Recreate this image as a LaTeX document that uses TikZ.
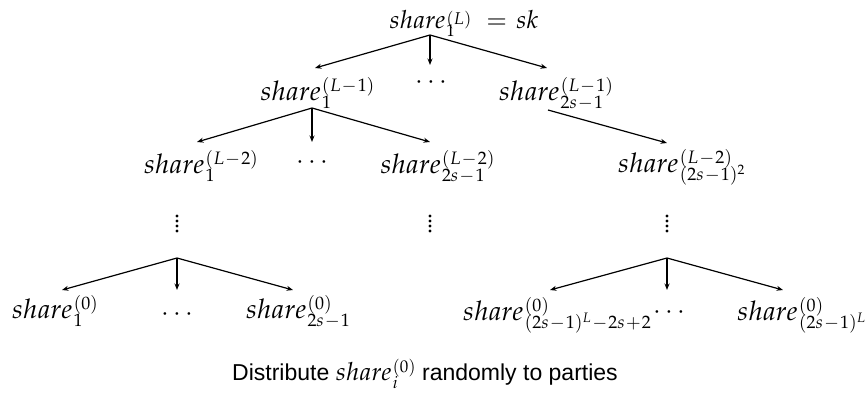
\documentclass[tikz,border=0pt]{standalone}
\usepackage{mathpazo}
\usepackage[no-math]{fontspec}
\setmainfont{Liberation Sans}
\usetikzlibrary{arrows.meta}
\newsavebox\shsup
\newsavebox\shsub
\newlength\shwd
\def\scsz{18}
% \shr[raise]{superscript}{subscript}
\newcommand\shr[3][0.3em]{%
  \sbox\shsup{\fontsize{\scsz}{\scsz}\selectfont\medmuskip=1mu$#2$}%
  \sbox\shsub{\fontsize{\scsz}{\scsz}\selectfont\medmuskip=1mu$#3$}%
  \setlength\shwd{\wd\shsup}%
  \ifdim\wd\shsub>\shwd\setlength\shwd{\wd\shsub}\fi
  $share$\kern0.04em\rlap{\raisebox{#1}{\usebox\shsup}}%
  \rlap{\raisebox{-0.33em}{\usebox\shsub}}\kern\shwd}
\begin{document}
\begin{tikzpicture}[x=1pt,y=-1pt,
  lbl/.style={anchor=base, inner sep=0pt, font=\fontsize{27}{32}\selectfont\def\scsz{18}},
  toplbl/.style={anchor=base, inner sep=0pt, font=\fontsize{25}{30}\selectfont\def\scsz{17}},
  hdots/.style={anchor=center, inner sep=0pt, font=\fontsize{25}{30}\selectfont},
  arr/.style={line width=1.2pt, -{Stealth[length=6.5pt,width=5pt]}},
  vdot/.style={fill=black}]
\useasboundingbox (0,0) rectangle (866,399);

% level 0
\node[toplbl] (T) at (464,28) {\shr[0.16em]{(L)}{1}\hspace{15pt}$=$\hspace{9pt}$sk$};
% level 1
\node[lbl] (L1a) at (317.5,100) {\shr{(L-1)}{1}};
\node[hdots] (L1d) at (431,83) {$\cdots$};
\node[lbl] (L1b) at (556,100) {\shr{(L-1)}{2s-1}};
% level 2
\node[lbl] (L2a) at (201,173) {\shr{(L-2)}{1}};
\node[hdots] (L2d) at (312,163) {$\cdots$};
\node[lbl] (L2b) at (437.5,173) {\shr{(L-2)}{2s-1}};
\node[lbl] (L2c) at (681.5,172) {\shr{(L-2)}{(2s-1)^2}};
% vertical dots
\foreach \nm/\x in {va/177, vb/430, vc/667}{
  \coordinate (\nm) at (\x,223.5);
  \foreach \y in {216,221,226,231}{\fill[vdot] (\x,\y) circle[radius=1.6pt];}
}
% bottom level
\node[lbl] (B1) at (55,318) {\shr{(0)}{1}};
\node[hdots] (B1d) at (177,315) {$\cdots$};
\node[lbl] (B2) at (298,318) {\shr{(0)}{2s-1}};
\node[lbl] (B3) at (557,320) {\shr{(0)}{(2s-1)^L-2s+2}};
\node[hdots] (B3d) at (669,313) {$\cdots$};
\node[lbl] (B4) at (801.5,320) {\shr{(0)}{(2s-1)^L}};
% caption
\node[anchor=base west, inner sep=0pt, font=\fontsize{23}{28}\selectfont] (cap) at (232,380)
  {Distribute {\fontsize{25}{30}\selectfont\def\scsz{17}\shr{(0)}{i}} randomly to parties};

% apex and tip coordinates
\coordinate (a0) at (430,35);
\coordinate (t0a) at (315,68);
\coordinate (t0d) at (430,65);
\coordinate (t0b) at (547,68);
\coordinate (a1) at (312,108);
\coordinate (t1a) at (197,142);
\coordinate (t1d) at (312,142);
\coordinate (t1b) at (430,142);
\coordinate (r1) at (548,110);
\coordinate (r2) at (667,143);
\coordinate (a2) at (177,258);
\coordinate (t2a) at (62,290);
\coordinate (t2d) at (177,290);
\coordinate (t2b) at (293,290);
\coordinate (a3) at (667,258);
\coordinate (t3a) at (550,290);
\coordinate (t3d) at (667,290);
\coordinate (t3b) at (783,290);

\draw[arr] (a0) -- (t0a);
\draw[arr] (a0) -- (t0d);
\draw[arr] (a0) -- (t0b);
\draw[arr] (a1) -- (t1a);
\draw[arr] (a1) -- (t1d);
\draw[arr] (a1) -- (t1b);
\draw[arr] (r1) -- (r2);
\draw[arr] (a2) -- (t2a);
\draw[arr] (a2) -- (t2d);
\draw[arr] (a2) -- (t2b);
\draw[arr] (a3) -- (t3a);
\draw[arr] (a3) -- (t3d);
\draw[arr] (a3) -- (t3b);
\end{tikzpicture}
\end{document}
